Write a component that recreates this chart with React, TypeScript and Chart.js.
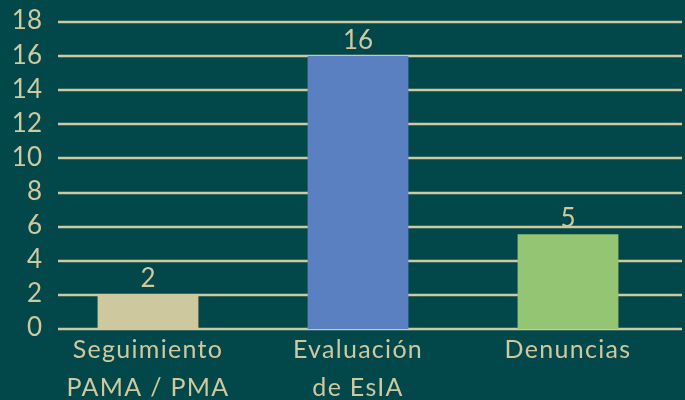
import React, { useEffect, useRef } from "react";
import { Chart, registerables } from "chart.js";

Chart.register(...registerables);

const categories: string[][] = [["Seguimiento", "PAMA / PMA"], ["Evaluación", "de EsIA"], ["Denuncias"]];
const values: number[] = [2, 16, 5.55];
const valueLabels: string[] = ["2", "16", "5"];
const barColors: string[] = ["#cec89e", "#5b80c2", "#93c572"];
const yTicks: number[] = [0, 2, 4, 6, 8, 10, 12, 14, 16, 18];

const BG = "#02474a";
const FG = "#cfc99f";
const FONT = "Lato, sans-serif";
const XSIZE = 25;
const NUMSIZE = 26;
const SPACING = "1.3px";

const spacingPlugin = {
  id: "spacing",
  beforeLayout(chart: any) {
    (chart.ctx as any).letterSpacing = SPACING;
  },
  beforeDraw(chart: any) {
    (chart.ctx as any).letterSpacing = SPACING;
  },
};

const gridPlugin = {
  id: "customGrid",
  beforeDatasetsDraw(chart: any) {
    const { ctx, chartArea, scales } = chart;
    ctx.save();
    ctx.strokeStyle = FG;
    ctx.lineWidth = 2.4;
    yTicks.forEach((t) => {
      const y = Math.round(scales.y.getPixelForValue(t));
      ctx.beginPath();
      ctx.moveTo(chartArea.left + 15, y);
      ctx.lineTo(chartArea.right + 9, y);
      ctx.stroke();
    });
    ctx.restore();
  },
};

const labelPlugin = {
  id: "valueLabels",
  afterDatasetsDraw(chart: any) {
    const { ctx, chartArea, scales } = chart;
    const meta = chart.getDatasetMeta(0);
    ctx.save();
    (ctx as any).letterSpacing = "0px";
    ctx.fillStyle = FG;
    ctx.font = `normal ${NUMSIZE}px ${FONT}`;
    ctx.textAlign = "center";
    ctx.textBaseline = "bottom";
    meta.data.forEach((bar: any, i: number) => {
      ctx.fillText(valueLabels[i], bar.x, bar.y - 3);
    });
    // y-axis tick labels, placed through the y scale
    ctx.textAlign = "right";
    ctx.textBaseline = "middle";
    yTicks.forEach((t) => {
      const y = scales.y.getPixelForValue(t);
      ctx.fillText(String(t), chartArea.left - 1, y - 1);
    });
    ctx.restore();
  },
};

export default function App() {
  const ref = useRef<HTMLCanvasElement>(null);
  useEffect(() => {
    if (!ref.current) return;
    const chart = new Chart(ref.current, {
      type: "bar",
      data: {
        labels: categories,
        datasets: [
          {
            data: values,
            backgroundColor: barColors,
            borderWidth: 0,
            categoryPercentage: 1,
            barPercentage: 0.48,
          },
        ],
      },
      options: {
        animation: false,
        responsive: false,
        maintainAspectRatio: false,
        layout: { padding: { top: 22, right: 12, left: 0, bottom: 0 } },
        plugins: { legend: { display: false }, tooltip: { enabled: false }, title: { display: false } },
        scales: {
          y: {
            min: 0,
            max: 18,
            afterFit(scale: any) {
              scale.width = 43;
            },
            afterBuildTicks(scale: any) {
              scale.ticks = yTicks.map((v) => ({ value: v }));
            },
            grid: { display: false, drawTicks: false },
            border: { display: false },
            ticks: { display: false },
          },
          x: {
            afterFit(scale: any) {
              scale.height = 71;
            },
            grid: { display: false, drawTicks: false },
            border: { display: false },
            ticks: {
              color: FG,
              font: { family: FONT, size: XSIZE, lineHeight: 1.52 },
              padding: 2,
              maxRotation: 0,
              autoSkip: false,
            },
          },
        },
      },
      plugins: [spacingPlugin, gridPlugin, labelPlugin],
    });
    return () => chart.destroy();
  }, []);
  return (
    <div style={{ position: "fixed", left: 0, top: 0, width: 685, height: 400, background: BG }}>
      <canvas ref={ref} width={685} height={400} style={{ display: "block" }} />
    </div>
  );
}
